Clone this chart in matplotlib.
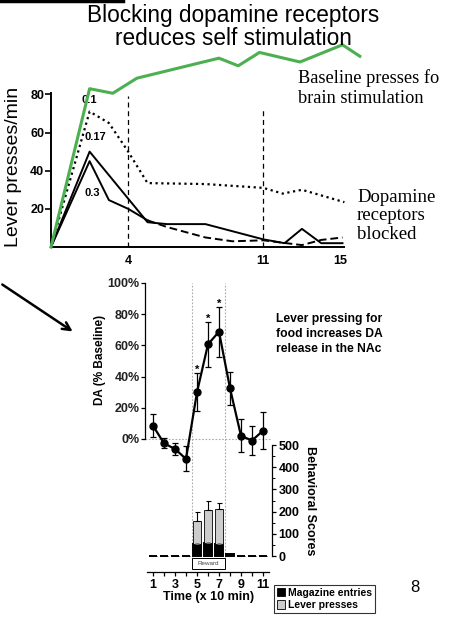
import numpy as np
import matplotlib
matplotlib.use("Agg")
import matplotlib.pyplot as plt
from matplotlib.patches import Patch, Rectangle, FancyArrowPatch
from matplotlib.lines import Line2D

# --- top panel: lever presses for brain stimulation (time points, presses/min)
base_t = [0, 2, 3.2, 4.45, 8.7, 9.7, 10.8, 12.9, 15.1, 16]
base_v = [0, 83, 80.6, 88.5, 99, 95, 102, 97, 106, 100]

d01_t = [0, 2, 3, 4, 5, 8, 11, 12, 13, 15.2]
d01_v = [0, 71, 65, 50, 33.5, 33, 31, 28, 30, 23.5]

d017_t = [0, 2, 5, 6, 8, 11, 12.1, 13, 14, 15.1]
d017_v = [0, 50, 13, 12, 12, 4, 2, 9.5, 2, 2]

d03_t = [0, 2, 3, 4, 5]
d03_v = [0, 45, 24.6, 20, 14]
dash_t = [5, 6, 8, 9.4, 11, 13, 14, 15.1]
dash_v = [14, 10.5, 5, 3, 3.5, 1, 3.7, 5]

top_yticks = [20, 40, 60, 80]
top_xticks = [4, 11, 15]
block_marks = [4, 11]
block_tops = [79, 73]

# --- bottom panel: DA (% baseline) and behavioural scores
time = [1, 2, 3, 4, 5, 6, 7, 8, 9, 10, 11]
da = [8.5, -2.8, -6.4, -12.8, 30, 60.7, 68.8, 32.5, 2, -1, 5.3]
da_err = [7.5, 3.3, 4, 8, 12, 14.5, 16, 10.5, 10.5, 9.5, 12]
signif = [5, 6, 7]

magazine = [0, 0, 0, 0, 54, 60, 54, 8, 0, 0, 0]
magazine_err = [0, 0, 0, 0, 5, 5, 5, 0, 0, 0, 0]
lever = [0, 0, 0, 0, 103, 147, 159, 0, 0, 0, 0]
lever_err = [0, 0, 0, 0, 43, 41, 24, 0, 0, 0, 0]

da_ticks = [0, 20, 40, 60, 80, 100]
beh_ticks = [0, 100, 200, 300, 400, 500]
time_labels = [1, 3, 5, 7, 9, 11]
reward_window = (4.5, 7.5)

W, H = 452, 626
fig = plt.figure(figsize=(W / 100, H / 100), dpi=100)
SANS = "Liberation Sans"
SERIF = "Liberation Serif"


def box(l, t, r, b):
    return [l / W, 1 - b / H, (r - l) / W, (b - t) / H]


# top rule and title
fig.add_artist(Line2D([0, 123 / W], [1 - 1 / H, 1 - 1 / H], transform=fig.transFigure,
                      color="black", lw=2.5))
fig.text(233 / W, 1 - 27 / H, "Blocking dopamine receptors\nreduces self stimulation",
         ha="center", va="center", fontsize=16.3, family=SANS, linespacing=0.98)

# ---------------- top chart
ax1 = fig.add_axes(box(51, 41, 369.5, 247))
ax1.set_xlim(0, 16.5)
ax1.set_ylim(0, 108)
ax1.plot(base_t, base_v, color="#4caf50", lw=2.2, clip_on=False, zorder=5)
ax1.plot(d01_t, d01_v, color="black", lw=1.6, ls=(0, (1, 1.6)), clip_on=False)
ax1.plot(d017_t, d017_v, color="black", lw=1.4, clip_on=False)
ax1.plot(d03_t, d03_v, color="black", lw=1.4, clip_on=False)
ax1.plot(dash_t, dash_v, color="black", lw=1.4, ls=(0, (4, 2)), clip_on=False)
for x, top in zip(block_marks, block_tops):
    ax1.vlines(x, 0, top, color="black", lw=0.9, ls=(0, (4, 3)))

for txt, x, y in [("0.1", 2.0, 77), ("0.17", 2.3, 57.5), ("0.3", 2.15, 28.3)]:
    ax1.text(x, y, txt, ha="center", va="center", fontsize=8, fontweight="bold", family=SANS)

for s in ["top", "right"]:
    ax1.spines[s].set_visible(False)
ax1.spines["left"].set_bounds(0, 81)
ax1.spines["bottom"].set_bounds(0, 15.2)
ax1.spines["left"].set_linewidth(1.4)
ax1.spines["bottom"].set_linewidth(1.4)
ax1.set_yticks(top_yticks)
ax1.set_yticklabels([str(v) for v in top_yticks], fontsize=9, fontweight="bold", family=SANS)
ax1.set_xticks(top_xticks)
ax1.set_xticklabels([str(v) for v in top_xticks], fontsize=9, fontweight="bold", family=SANS)
ax1.tick_params(axis="y", length=4, width=1.2, pad=1)
ax1.tick_params(axis="x", length=0, pad=6)
ax1.patch.set_visible(False)

fig.text(14 / W, 1 - 167 / H, "Lever presses/min", rotation=90, ha="center", va="center",
         fontsize=14, family=SANS)
fig.text(298 / W, 1 - 88 / H, "Baseline presses fo\nbrain stimulation", ha="left",
         va="center", fontsize=13.2, family=SERIF, linespacing=1.2)
fig.text(357 / W, 1 - 216 / H, "Dopamine\nreceptors\nblocked", ha="left", va="center",
         fontsize=13.5, family=SERIF, linespacing=1.1)

# arrow between panels
fig.add_artist(FancyArrowPatch((0, 1 - 283 / H), (75 / W, 1 - 333 / H), transform=fig.transFigure,
                               arrowstyle="->", mutation_scale=14, lw=1.8, color="black"))

# ---------------- bottom chart
ax2 = fig.add_axes(box(145.3, 283, 271.8, 572))
ax2.set_xlim(0.3, 11.8)
ax2.set_ylim(-85.3, 100)
axb = ax2.twinx()
axb.set_ylim(-72, 1230)

ax2.axhline(0, color="#aaaaaa", lw=0.8, ls=(0, (1.5, 1.5)), zorder=0)
ax2.vlines(reward_window, -76, 100, color="#aaaaaa", lw=0.8, ls=(0, (1.5, 1.5)), zorder=0)

ax2.errorbar(time, da, yerr=da_err, fmt="-o", color="black", ms=5, lw=1.6,
             elinewidth=0.9, capsize=2, capthick=0.9, zorder=4)
for x in signif:
    i = time.index(x)
    ax2.text(x, da[i] + da_err[i] + 2, "*", ha="center", va="center",
             fontsize=8, fontweight="bold", family=SANS)

t = np.array(time)
mag = np.array(magazine)
lev = np.array(lever)
axb.bar(t, mag, width=0.75, color="black", edgecolor="black", lw=1.4)
axb.bar(t, lev, bottom=mag, width=0.75, color="#cccccc", edgecolor="black", lw=0.6)
m = np.array(lever_err) > 0
axb.errorbar(t[m], (mag + lev)[m], yerr=[np.zeros(m.sum()), np.array(lever_err)[m]],
             fmt="none", ecolor="black", elinewidth=0.8, capsize=1.8, capthick=0.8)
m2 = np.array(magazine_err) > 0
axb.errorbar(t[m2], mag[m2], yerr=[np.zeros(m2.sum()), np.array(magazine_err)[m2]],
             fmt="none", ecolor="#777777", elinewidth=0.6, capsize=1.2, capthick=0.6)

axb.add_patch(Rectangle((reward_window[0], -58), reward_window[1] - reward_window[0], 49,
                        facecolor="white", edgecolor="black", lw=0.7))
axb.text(sum(reward_window) / 2, -33, "Reward", ha="center", va="center", fontsize=4.5,
         color="#444444", family=SANS)

for s in ["top", "right"]:
    ax2.spines[s].set_visible(False)
for s in ["top", "left", "bottom"]:
    axb.spines[s].set_visible(False)
axb.spines["right"].set_bounds(0, 500)
axb.spines["right"].set_linewidth(0.9)

ax2.spines["left"].set_bounds(0, 100)
ax2.spines["left"].set_linewidth(0.9)
ax2.set_yticks(da_ticks)
ax2.set_yticklabels([f"{v}%" for v in da_ticks], fontsize=9, fontweight="bold",
                    family=SANS, color="#222222")
ax2.tick_params(axis="y", length=3, width=0.9, pad=1)

ax2.spines["bottom"].set_bounds(0.45, 11.5)
ax2.spines["bottom"].set_linewidth(0.9)
ax2.set_xticks(time)
ax2.set_xticklabels([str(v) if v in time_labels else "" for v in time], fontsize=9,
                    fontweight="bold", family=SANS)
ax2.tick_params(axis="x", length=3, width=0.9, pad=2)

axb.set_yticks(beh_ticks)
axb.set_yticks(np.arange(50, 500, 100), minor=True)
axb.set_yticklabels([str(v) for v in beh_ticks], fontsize=9, fontweight="bold", family=SANS)
axb.tick_params(axis="y", which="major", length=3, width=0.9, pad=2)
axb.tick_params(axis="y", which="minor", length=2, width=0.7)

fig.text(100 / W, 1 - 360 / H, "DA (% Baseline)", rotation=90, ha="center", va="center",
         fontsize=8.5, fontweight="bold", family=SANS)
fig.text(310 / W, 1 - 501 / H, "Behavioral Scores", rotation=270, ha="center", va="center",
         fontsize=9, fontweight="bold", family=SANS)
fig.text(209 / W, 1 - 597 / H, "Time (x 10 min)", ha="center", va="center",
         fontsize=9, fontweight="bold", family=SANS)
fig.text(276 / W, 1 - 334 / H, "Lever pressing for\nfood increases DA\nrelease in the NAc",
         ha="left", va="center", fontsize=8.7, fontweight="bold", family=SANS, linespacing=1.3)
fig.text(415 / W, 1 - 587 / H, "8", ha="center", va="center", fontsize=12, family=SANS)

handles = [Patch(facecolor="black", edgecolor="black", lw=0.6),
           Patch(facecolor="#cccccc", edgecolor="black", lw=0.6)]
leg = fig.legend(handles, ["Magazine entries", "Lever presses"], loc="upper left",
                 bbox_to_anchor=(274 / W, 1 - 585 / H), frameon=True, fancybox=False,
                 prop={"family": SANS, "weight": "bold", "size": 7.5}, handlelength=0.8,
                 handleheight=0.9, handletextpad=0.3, labelspacing=0.25, borderpad=0.25,
                 borderaxespad=0)
leg.get_frame().set_edgecolor("black")
leg.get_frame().set_linewidth(0.8)

fig.savefig("out.png", dpi=100)
